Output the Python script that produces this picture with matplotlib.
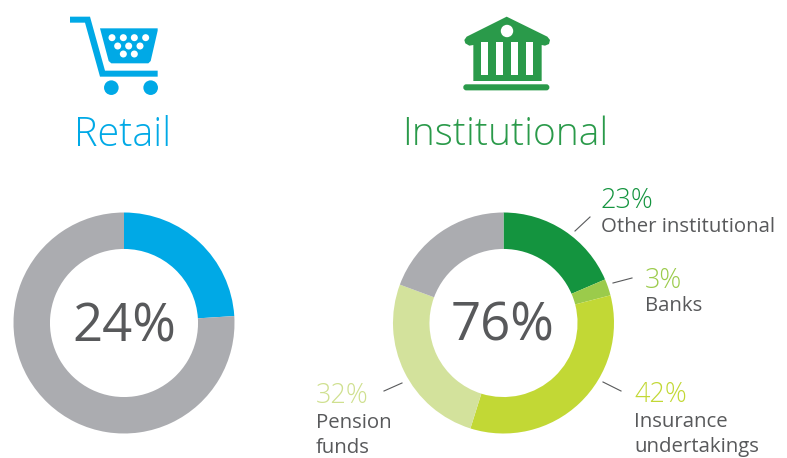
import matplotlib
matplotlib.use("Agg")
import matplotlib.pyplot as plt
from matplotlib.patches import Polygon, Circle, FancyBboxPatch, Rectangle

plt.rcParams['font.family'] = ['Open Sans', 'DejaVu Sans']

W, H = 787, 458
retail_values = [24, 76]
retail_colors = ['#00A9E6', '#ABACB0']
inst_labels = ['Other institutional', 'Banks', 'Insurance\nundertakings', 'Pension\nfunds']
inst_values = [23, 3, 42, 32]
inst_rest = [24]
inst_colors = ['#14943F', '#9BCB4B', '#C2D835', '#D3E29C', '#ABACB0']
BLUE, GREEN = '#00A9E6', '#2A9A4A'
GREY = '#58595B'

fig = plt.figure(figsize=(W/100, H/100), dpi=100)

def donut(cx, cy, r, values, colors):
    ax = fig.add_axes([(cx-r)/W, 1-(cy+r)/H, 2*r/W, 2*r/H])
    ax.pie(values, colors=colors, startangle=90, counterclock=False, radius=1,
           wedgeprops=dict(width=0.33, linewidth=0))
    ax.set_xlim(-1, 1); ax.set_ylim(-1, 1)
    ax.axis('off')

donut(124, 323, 110.5, retail_values, retail_colors)
donut(503.5, 323, 110.5, inst_values + inst_rest, inst_colors)

ov = fig.add_axes([0, 0, 1, 1], zorder=5)
ov.set_xlim(0, W); ov.set_ylim(H, 0); ov.axis('off'); ov.patch.set_alpha(0)

# cart icon
def c(p): return [(x/3+50, y/3) for x, y in p]
ov.add_patch(Polygon(c([(60,50),(120,50),(165,212),(323,212),(323,230),(150,230),(105,68),(60,68)]), fc=BLUE, lw=0))
ov.add_patch(Polygon(c([(150,85),(323,85),(323,92),(302,183),(295,190),(184,190),(176,183)]), fc=BLUE, lw=0))
for px, py in [(186,113),(220,113),(253,113),(287,113),(203,138),(236,138),(270,138),(220,162),(253,162)]:
    ov.add_patch(Circle((px/3+50, py/3), 3.5, fc='white', lw=0))
for px in (184, 302):
    ov.add_patch(Circle((px/3+50, 263/3), 7.3, fc=BLUE, lw=0))

# bank icon
def b(p): return [(x/3+450, y/3) for x, y in p]
ov.add_patch(Polygon(b([(170,50),(292,110),(300,120),(297,132),(285,137),(275,135),(275,243),(70,243),(70,135),(58,137),(46,130),(43,120),(50,110)]), fc=GREEN, lw=0))
for px in (93, 138, 184, 229):
    ov.add_patch(Rectangle((px/3+450, 127/3), 20/3, 97/3, fc='white', lw=0))
ov.add_patch(Circle((171/3+450, 93/3), 6.2, fc='white', lw=0))
ov.add_patch(FancyBboxPatch((43/3+450, 256/3), 252/3, 12/3, boxstyle='round,pad=0,rounding_size=2', fc=GREEN, lw=1.5, ec=GREEN))

# titles
ov.text(123, 135, 'Retail', color=BLUE, fontsize=28.5, ha='center', va='center', fontweight='light')
ov.text(505.5, 135, 'Institutional', color=GREEN, fontsize=28, ha='center', va='center', fontweight='light')

# centre
ov.text(124, 328, f'{retail_values[0]}%', color=GREY, fontsize=38, ha='center', va='center')
ov.text(503, 327, '76%', color=GREY, fontsize=38, ha='center', va='center')

# annotation
def lab(x, y, pct, col, name, ny):
    ov.text(x, y, pct, color=col, fontsize=19.5, va='center', ha='left', fontweight='light')
    ov.text(x, ny, name, color=GREY, fontsize=14.7, va='center', ha='left', linespacing=1.32)

lab(601, 201, f'{inst_values[0]}%', '#14943F', inst_labels[0], 227)
lab(645, 281, f'{inst_values[1]}%', '#9BCB4B', inst_labels[1], 306)
lab(634, 395, f'{inst_values[2]}%', '#C2D835', inst_labels[2], 434.5)
lab(316, 396, f'{inst_values[3]}%', '#CFE08F', inst_labels[3], 435.5)

for (x0, y0, x1, y1) in [(575, 231, 590, 217), (613, 283, 632, 278), (603, 382, 621, 391), (384, 391, 402, 383)]:
    ov.plot([x0, x1], [y0, y1], color=GREY, lw=0.8)

fig.savefig('out.png', dpi=100)
